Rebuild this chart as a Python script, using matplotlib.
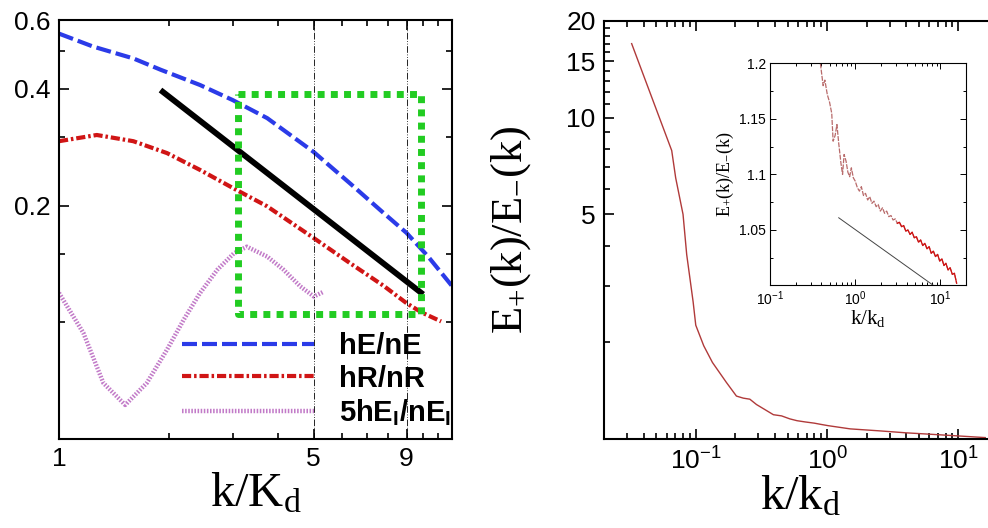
import matplotlib
matplotlib.use("Agg")
import matplotlib.pyplot as plt
from matplotlib.ticker import FixedLocator, NullFormatter, FixedFormatter, LogLocator

plt.rcParams["font.family"] = ["Liberation Sans", "DejaVu Sans"]
plt.rcParams["mathtext.default"] = "regular"

# ---- left panel: ratio spectra ----
he_k = [1.0, 1.24, 1.6, 1.9, 2.44, 3.0, 3.73, 5.0, 6.3, 7.8, 9.0, 10.3, 12.0]
he_y = [0.555, 0.514, 0.479, 0.448, 0.409, 0.374, 0.336, 0.275, 0.228, 0.191, 0.170, 0.148, 0.124]

hr_k = [1.0, 1.27, 1.6, 1.98, 2.44, 3.0, 3.73, 5.0, 6.3, 7.8, 9.0, 9.9, 11.2]
hr_y = [0.293, 0.304, 0.293, 0.273, 0.247, 0.222, 0.199, 0.165, 0.142, 0.124, 0.112, 0.106, 0.1005]

hei_k = [1.0, 1.167, 1.324, 1.52, 1.742, 1.98, 2.2, 2.44, 2.72, 3.02, 3.28, 3.73, 4.14, 4.6, 5.01, 5.34]
hei_y = [0.119, 0.0938, 0.0697, 0.0612, 0.0697, 0.085, 0.1015, 0.119, 0.1365, 0.1505,
         0.1566, 0.1477, 0.1365, 0.1237, 0.1165, 0.120]

fit_k = [1.9, 10.0]
fit_y = [0.397, 0.118]

box_k = [3.11, 9.85, 9.85, 3.11, 3.11]
box_y = [0.387, 0.387, 0.105, 0.105, 0.387]

guide_k = [5, 9]

# ---- right panel: E+/E- ----
ratio_k = [0.0325, 0.0656, 0.0703, 0.08, 0.0853, 0.0955, 0.1, 0.115, 0.134, 0.171, 0.204,
           0.23, 0.258, 0.29, 0.33, 0.39, 0.45, 0.52, 0.59, 0.68, 0.8, 0.9, 1.02, 1.5,
           2.5, 4.0, 6.0, 10.0, 16.0]
ratio_y = [17.0, 7.9, 6.5, 5.0, 3.75, 2.67, 2.26, 1.95, 1.73, 1.50, 1.36,
           1.34, 1.33, 1.28, 1.24, 1.19, 1.18, 1.155, 1.14, 1.13, 1.12, 1.11, 1.10, 1.075,
           1.06, 1.045, 1.035, 1.022, 1.01]

# ---- inset ----
ins_k = [0.39, 0.42, 0.44, 0.47, 0.50, 0.53, 0.55, 0.58, 0.61, 0.64, 0.68, 0.71, 0.74, 0.78,
         0.82, 0.86, 0.90, 0.95, 1.00, 1.06, 1.12, 1.18, 1.25, 1.32, 1.40, 1.48, 1.57, 1.66,
         1.76, 1.86, 1.97, 2.09, 2.21, 2.34, 2.48, 2.63, 2.78, 2.95, 3.12, 3.30, 3.50, 3.70,
         3.92, 4.15, 4.40, 4.66, 4.93, 5.22, 5.53, 5.86, 6.20, 6.57, 6.96, 7.37, 7.80, 8.26,
         8.75, 9.27, 9.81, 10.4, 11.0, 11.6, 12.3, 13.0, 13.8, 14.6, 15.5]
ins_y = [1.200, 1.180, 1.185, 1.172, 1.165, 1.155, 1.130, 1.135, 1.145, 1.128, 1.110, 1.100,
         1.118, 1.112, 1.102, 1.098, 1.106, 1.097, 1.094, 1.088, 1.085, 1.089, 1.081, 1.083,
         1.077, 1.080, 1.074, 1.076, 1.071, 1.073, 1.067, 1.070, 1.065, 1.067, 1.062, 1.063,
         1.059, 1.060, 1.056, 1.057, 1.053, 1.054, 1.049, 1.050, 1.046, 1.048, 1.043, 1.044,
         1.039, 1.041, 1.036, 1.038, 1.033, 1.035, 1.029, 1.031, 1.026, 1.028, 1.022, 1.024,
         1.018, 1.020, 1.014, 1.016, 1.010, 1.011, 1.002]
ins_fit_k = [0.64, 8.3]
ins_fit_y = [1.061, 1.0]


def style_axes(ax, major_len=7, minor_len=4, labelsize=19):
    for s in ax.spines.values():
        s.set_linewidth(1.5)
    ax.tick_params(which="both", direction="in", top=True, right=True, width=1.2,
                   labelsize=labelsize)
    ax.tick_params(which="major", length=major_len, pad=6)
    ax.tick_params(which="minor", length=minor_len)


fig = plt.figure(figsize=(9.88, 5.28), dpi=100)

# left
ax1 = fig.add_axes([0.0597, 0.1686, 0.3978, 0.7926])
ax1.set_xscale("log")
ax1.set_yscale("log")
ax1.plot(he_k, he_y, color="#2b3be8", lw=3, ls=(0, (3.6, 1.2)), label="hE/nE")
ax1.plot(hr_k, hr_y, color="#d01515", lw=3, ls=(0, (2.2, 0.7, 0.6, 0.7)), label="hR/nR")
ax1.plot(fit_k, fit_y, color="black", lw=4.2, solid_capstyle="butt")
ax1.plot(hei_k, hei_y, color="#c27bc8", lw=3.2, ls=(0, (0.35, 0.35)),
         label=r"5hE$_\mathregular{I}$/nE$_\mathregular{I}$")
ax1.plot(box_k, box_y, color="#22cc22", lw=5, ls=(0, (1, 0.9)))
for g in guide_k:
    ax1.axvline(g, color="black", lw=0.6, ls=(0, (8, 2, 1, 2, 1, 2)))
ax1.set_xlim(1, 12)
ax1.set_ylim(0.05, 0.6)
ax1.xaxis.set_major_locator(FixedLocator([1, 5, 9]))
ax1.xaxis.set_major_formatter(FixedFormatter(["1", "5", "9"]))
ax1.xaxis.set_minor_locator(FixedLocator([2, 3, 4, 6, 7, 8, 10, 11]))
ax1.xaxis.set_minor_formatter(NullFormatter())
ax1.yaxis.set_major_locator(FixedLocator([0.2, 0.4, 0.6]))
ax1.yaxis.set_major_formatter(FixedFormatter(["0.2", "0.4", "0.6"]))
ax1.yaxis.set_minor_locator(FixedLocator([0.1, 0.15, 0.3, 0.5]))
ax1.yaxis.set_minor_formatter(NullFormatter())
style_axes(ax1)
ax1.set_xlabel(r"k/K$_\mathregular{d}$", family="Liberation Serif", fontsize=35, labelpad=0)
leg = ax1.legend(loc="upper left", bbox_to_anchor=(0.275, 0.29), frameon=False,
                 handlelength=4.55, handletextpad=0.85, labelspacing=0.15, borderpad=0,
                 prop={"family": "Liberation Sans", "weight": "bold", "size": 21})

# right
ax2 = fig.add_axes([0.6113, 0.1686, 0.3988, 0.7917])
ax2.set_xscale("log")
ax2.set_yscale("log")
ax2.plot(ratio_k, ratio_y, color="#b03a3a", lw=1)
ax2.set_xlim(0.02, 20)
ax2.set_ylim(1, 20)
ax2.xaxis.set_major_locator(LogLocator(base=10))
ax2.xaxis.set_minor_locator(LogLocator(base=10, subs=range(2, 10)))
ax2.xaxis.set_minor_formatter(NullFormatter())
ax2.yaxis.set_major_locator(FixedLocator([5, 10, 15, 20]))
ax2.yaxis.set_major_formatter(FixedFormatter(["5", "10", "15", "20"]))
ax2.yaxis.set_minor_locator(FixedLocator([2, 3, 4, 6, 7, 8, 9, 11, 12, 13, 14, 16, 17, 18, 19]))
ax2.yaxis.set_minor_formatter(NullFormatter())
style_axes(ax2)
ax2.set_xlabel(r"k/k$_\mathregular{d}$", family="Liberation Serif", fontsize=35, labelpad=0)
ax2.set_ylabel(r"E$_\mathregular{+}$(k)/E$_\mathregular{-}$(k)", family="Liberation Serif",
               fontsize=32)
ax2.yaxis.set_label_coords(-0.18, 0.5)

# inset
ax3 = fig.add_axes([0.7794, 0.4593, 0.1984, 0.4205])
ax3.set_xscale("log")
ax3.plot(ins_k, ins_y, color="#b86a6a", lw=0.9, ls=(0, (4, 1)))
ax3.plot(ins_k[38:], ins_y[38:], color="#d01010", lw=0.9)
ax3.plot(ins_fit_k, ins_fit_y, color="#444444", lw=0.7)
ax3.set_xlim(0.1, 20)
ax3.set_ylim(1.0, 1.2)
ax3.xaxis.set_major_locator(LogLocator(base=10))
ax3.xaxis.set_minor_locator(LogLocator(base=10, subs=range(2, 10)))
ax3.xaxis.set_minor_formatter(NullFormatter())
ax3.yaxis.set_major_locator(FixedLocator([1.05, 1.1, 1.15, 1.2]))
ax3.yaxis.set_major_formatter(FixedFormatter(["1.05", "1.1", "1.15", "1.2"]))
ax3.yaxis.set_minor_locator(FixedLocator([1.0, 1.025, 1.075, 1.125, 1.175]))
ax3.yaxis.set_minor_formatter(NullFormatter())
for s in ax3.spines.values():
    s.set_linewidth(0.8)
ax3.tick_params(which="both", direction="in", top=True, right=True, width=0.7, labelsize=10)
ax3.tick_params(which="major", length=4, pad=3)
ax3.tick_params(which="minor", length=2.5)
ax3.set_xlabel(r"k/k$_\mathregular{d}$", family="Liberation Serif", fontsize=15, labelpad=0)
ax3.set_ylabel(r"E$_\mathregular{+}$(k)/E$_\mathregular{-}$(k)", family="Liberation Serif",
               fontsize=13, labelpad=2)

fig.savefig("out.png", dpi=100)
